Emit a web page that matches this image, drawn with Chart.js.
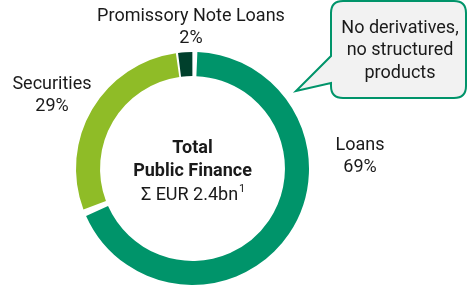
<!DOCTYPE html>
<html>
<head>
<meta charset="utf-8">
<script src="https://cdn.jsdelivr.net/npm/chart.js@4"></script>
<style>
  html, body { margin: 0; padding: 0; background: #fff; }
  #wrap { position: relative; width: 468px; height: 285px; overflow: hidden; }
</style>
</head>
<body>
<div id="wrap"><canvas id="chart" width="468" height="285"></canvas></div>
<script>
// data
const categories = ['Loans', 'Securities', 'Promissory Note Loans'];
const shares = [69, 29, 2];
const sliceColors = ['#00946a', '#8fbc27', '#00402c'];
const centerLines = ['Total', 'Public Finance', '\u03A3 EUR 2.4bn'];
const calloutLines = ['No derivatives,', 'no structured', 'products'];

// label spots (relative to chart, in px)
const labelPos = [
  { x: 360, y: 145 },
  { x: 52, y: 84 },
  { x: 191, y: 16 }
];

const font = '"Roboto", "Liberation Sans", sans-serif';

// Draw labels, center text, callout
const overlay = {
  id: 'overlay',
  afterDraw(chart) {
    const ctx = chart.ctx;
    const meta = chart.getDatasetMeta(0);
    const arc = meta.data[0];
    const cx = arc.x;
    ctx.save();
    ctx.textAlign = 'center';
    ctx.textBaseline = 'middle';
    ctx.fillStyle = '#1a1a1a';
    ctx.font = '18px ' + font;
    categories.forEach((c, i) => {
      const p = labelPos[i];
      ctx.fillText(c, p.x, p.y);
      ctx.fillText(shares[i] + '%', p.x, p.y + 22);
    });

    // center text
    ctx.font = 'bold 18px ' + font;
    ctx.fillText(centerLines[0], cx, 148);
    ctx.fillText(centerLines[1], cx, 171);
    ctx.font = '18px ' + font;
    const w = ctx.measureText(centerLines[2]).width;
    ctx.fillText(centerLines[2], cx - 3, 195);
    ctx.font = '11px ' + font;
    ctx.fillText('1', cx - 3 + w / 2 + 4, 189);

    // callout bubble
    const bx = 331, by = 1, bw = 135, bh = 97, r = 12;
    ctx.beginPath();
    ctx.moveTo(bx + r, by);
    ctx.lineTo(bx + bw - r, by);
    ctx.quadraticCurveTo(bx + bw, by, bx + bw, by + r);
    ctx.lineTo(bx + bw, by + bh - r);
    ctx.quadraticCurveTo(bx + bw, by + bh, bx + bw - r, by + bh);
    ctx.lineTo(bx + r, by + bh);
    ctx.quadraticCurveTo(bx, by + bh, bx, by + bh - r);
    ctx.lineTo(bx, by + 82);
    ctx.lineTo(296, 91);
    ctx.lineTo(bx, by + 55);
    ctx.lineTo(bx, by + r);
    ctx.quadraticCurveTo(bx, by, bx + r, by);
    ctx.closePath();
    ctx.fillStyle = '#f2f2f2';
    ctx.fill();
    ctx.strokeStyle = '#00946a';
    ctx.lineWidth = 2;
    ctx.stroke();

    ctx.fillStyle = '#1a1a1a';
    ctx.font = '18px ' + font;
    calloutLines.forEach((t, i) => ctx.fillText(t, 400, 28 + i * 22.5));
    ctx.restore();
  }
};

new Chart(document.getElementById('chart'), {
  type: 'doughnut',
  data: {
    labels: categories,
    datasets: [{
      data: shares,
      backgroundColor: sliceColors,
      borderColor: '#ffffff',
      borderWidth: 0,
      spacing: 4
    }]
  },
  options: {
    responsive: false,
    animation: false,
    cutout: '79%',
    layout: { padding: { left: 76, top: 52, right: 159, bottom: 0 } },
    plugins: {
      legend: { display: false },
      tooltip: { enabled: false }
    }
  },
  plugins: [overlay]
});
</script>
</body>
</html>
